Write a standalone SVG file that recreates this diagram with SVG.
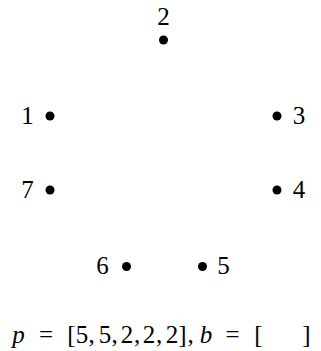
<svg xmlns="http://www.w3.org/2000/svg" width="321" height="351" viewBox="0 0 321 351">
<style>
.dot{fill:#000}
.lbl{font-size:25px;fill:#000;text-anchor:middle}
.it{font-style:italic}
</style>
<rect width="321" height="351" fill="#fff"/>
<g id="connectors"></g>
<g font-family="Liberation Serif, DejaVu Serif, Times New Roman, serif">
<g id="node2"><circle class="dot" cx="163.5" cy="40" r="4.5"/><text class="lbl" x="163.5" y="25">2</text></g>
<g id="node1"><circle class="dot" cx="50" cy="116" r="4.5"/><text class="lbl" x="27.5" y="123.5">1</text></g>
<g id="node3"><circle class="dot" cx="277" cy="116" r="4.5"/><text class="lbl" x="299" y="123.5">3</text></g>
<g id="node7"><circle class="dot" cx="50" cy="190" r="4.5"/><text class="lbl" x="27.5" y="197.5">7</text></g>
<g id="node4"><circle class="dot" cx="277" cy="190" r="4.5"/><text class="lbl" x="299" y="197.5">4</text></g>
<g id="node6"><circle class="dot" cx="126.5" cy="266.5" r="4.5"/><text class="lbl" x="102.5" y="274">6</text></g>
<g id="node5"><circle class="dot" cx="202.5" cy="266.5" r="4.5"/><text class="lbl" x="223.5" y="274">5</text></g>
<g id="caption">
<text class="lbl" y="343"><tspan class="it" x="18.5">p</tspan><tspan x="46">=</tspan><tspan x="71.5">[</tspan><tspan x="82">5</tspan><tspan x="91.5">,</tspan><tspan x="105">5</tspan><tspan x="114.5">,</tspan><tspan x="127">2</tspan><tspan x="137">,</tspan><tspan x="149">2</tspan><tspan x="159">,</tspan><tspan x="172">2</tspan><tspan x="182.5">]</tspan><tspan x="190.5">,</tspan><tspan class="it" x="206">b</tspan><tspan x="232.5">=</tspan><tspan x="258.5">[</tspan><tspan x="306.5">]</tspan></text>
</g>
</g>
</svg>
